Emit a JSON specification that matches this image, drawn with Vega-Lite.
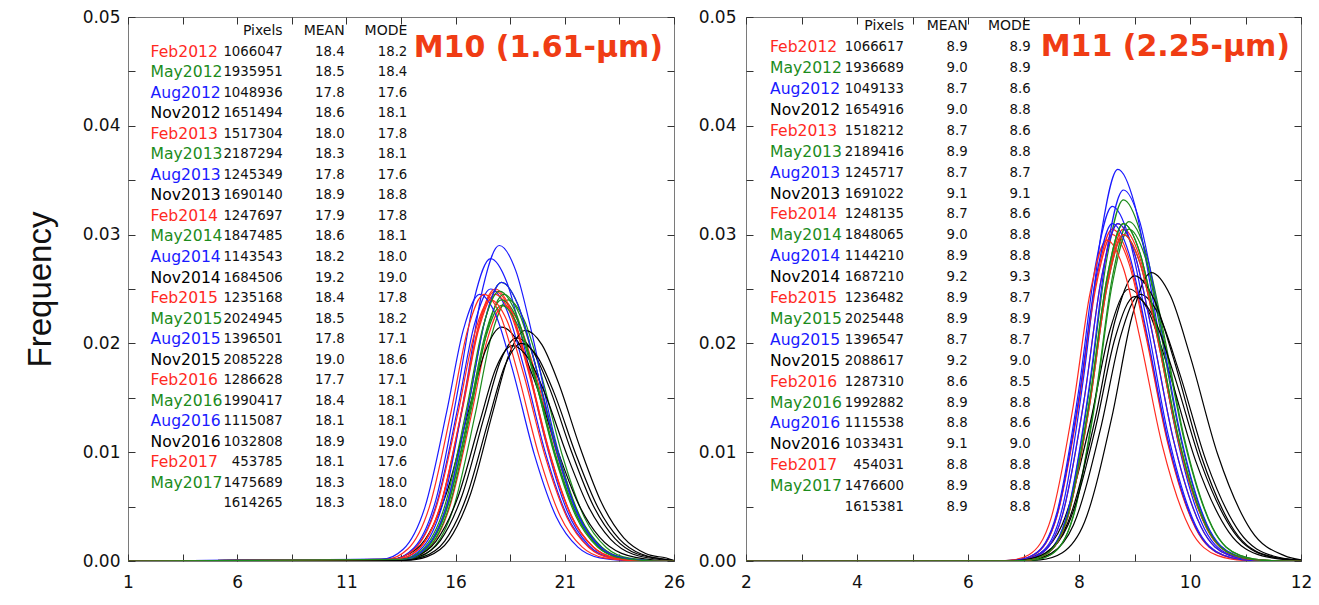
{
"$schema":"https://vega.github.io/schema/vega-lite/v6.json",
"background":"white",
"padding":{"left":23,"top":7,"right":0,"bottom":0},
"spacing":72,
"bounds":"flush",
"config":{
 "view":{"stroke":"#7a7a7a","strokeWidth":1},
 "axis":{"domain":false,"grid":false,"tickColor":"#333","tickWidth":1,"tickSize":-7,"labelFont":"DejaVu Sans","labelFontSize":17,"labelColor":"#111","labelOverlap":false,"labelFlush":false,"titleFont":"Liberation Sans","titleFontSize":33,"titleFontWeight":"normal","titleColor":"#111"}
},
"datasets":{
"titles":[{"p":"M10","t":"M10 (1.61-µm)"},{"p":"M11","t":"M11 (2.25-µm)"}],
"table":[
{"p":"M10","r":-1,"m":"","c":"","n":"Pixels","a":"MEAN","o":"MODE"},
{"p":"M10","r":0,"m":"Feb2012","c":"Feb","n":"1066047","a":"18.4","o":"18.2"},
{"p":"M10","r":1,"m":"May2012","c":"May","n":"1935951","a":"18.5","o":"18.4"},
{"p":"M10","r":2,"m":"Aug2012","c":"Aug","n":"1048936","a":"17.8","o":"17.6"},
{"p":"M10","r":3,"m":"Nov2012","c":"Nov","n":"1651494","a":"18.6","o":"18.1"},
{"p":"M10","r":4,"m":"Feb2013","c":"Feb","n":"1517304","a":"18.0","o":"17.8"},
{"p":"M10","r":5,"m":"May2013","c":"May","n":"2187294","a":"18.3","o":"18.1"},
{"p":"M10","r":6,"m":"Aug2013","c":"Aug","n":"1245349","a":"17.8","o":"17.6"},
{"p":"M10","r":7,"m":"Nov2013","c":"Nov","n":"1690140","a":"18.9","o":"18.8"},
{"p":"M10","r":8,"m":"Feb2014","c":"Feb","n":"1247697","a":"17.9","o":"17.8"},
{"p":"M10","r":9,"m":"May2014","c":"May","n":"1847485","a":"18.6","o":"18.1"},
{"p":"M10","r":10,"m":"Aug2014","c":"Aug","n":"1143543","a":"18.2","o":"18.0"},
{"p":"M10","r":11,"m":"Nov2014","c":"Nov","n":"1684506","a":"19.2","o":"19.0"},
{"p":"M10","r":12,"m":"Feb2015","c":"Feb","n":"1235168","a":"18.4","o":"17.8"},
{"p":"M10","r":13,"m":"May2015","c":"May","n":"2024945","a":"18.5","o":"18.2"},
{"p":"M10","r":14,"m":"Aug2015","c":"Aug","n":"1396501","a":"17.8","o":"17.1"},
{"p":"M10","r":15,"m":"Nov2015","c":"Nov","n":"2085228","a":"19.0","o":"18.6"},
{"p":"M10","r":16,"m":"Feb2016","c":"Feb","n":"1286628","a":"17.7","o":"17.1"},
{"p":"M10","r":17,"m":"May2016","c":"May","n":"1990417","a":"18.4","o":"18.1"},
{"p":"M10","r":18,"m":"Aug2016","c":"Aug","n":"1115087","a":"18.1","o":"18.1"},
{"p":"M10","r":19,"m":"Nov2016","c":"Nov","n":"1032808","a":"18.9","o":"19.0"},
{"p":"M10","r":20,"m":"Feb2017","c":"Feb","n":"453785","a":"18.1","o":"17.6"},
{"p":"M10","r":21,"m":"May2017","c":"May","n":"1475689","a":"18.3","o":"18.0"},
{"p":"M10","r":22,"m":"","c":"","n":"1614265","a":"18.3","o":"18.0"},
{"p":"M11","r":-1,"m":"","c":"","n":"Pixels","a":"MEAN","o":"MODE"},
{"p":"M11","r":0,"m":"Feb2012","c":"Feb","n":"1066617","a":"8.9","o":"8.9"},
{"p":"M11","r":1,"m":"May2012","c":"May","n":"1936689","a":"9.0","o":"8.9"},
{"p":"M11","r":2,"m":"Aug2012","c":"Aug","n":"1049133","a":"8.7","o":"8.6"},
{"p":"M11","r":3,"m":"Nov2012","c":"Nov","n":"1654916","a":"9.0","o":"8.8"},
{"p":"M11","r":4,"m":"Feb2013","c":"Feb","n":"1518212","a":"8.7","o":"8.6"},
{"p":"M11","r":5,"m":"May2013","c":"May","n":"2189416","a":"8.9","o":"8.8"},
{"p":"M11","r":6,"m":"Aug2013","c":"Aug","n":"1245717","a":"8.7","o":"8.7"},
{"p":"M11","r":7,"m":"Nov2013","c":"Nov","n":"1691022","a":"9.1","o":"9.1"},
{"p":"M11","r":8,"m":"Feb2014","c":"Feb","n":"1248135","a":"8.7","o":"8.6"},
{"p":"M11","r":9,"m":"May2014","c":"May","n":"1848065","a":"9.0","o":"8.8"},
{"p":"M11","r":10,"m":"Aug2014","c":"Aug","n":"1144210","a":"8.9","o":"8.8"},
{"p":"M11","r":11,"m":"Nov2014","c":"Nov","n":"1687210","a":"9.2","o":"9.3"},
{"p":"M11","r":12,"m":"Feb2015","c":"Feb","n":"1236482","a":"8.9","o":"8.7"},
{"p":"M11","r":13,"m":"May2015","c":"May","n":"2025448","a":"8.9","o":"8.9"},
{"p":"M11","r":14,"m":"Aug2015","c":"Aug","n":"1396547","a":"8.7","o":"8.7"},
{"p":"M11","r":15,"m":"Nov2015","c":"Nov","n":"2088617","a":"9.2","o":"9.0"},
{"p":"M11","r":16,"m":"Feb2016","c":"Feb","n":"1287310","a":"8.6","o":"8.5"},
{"p":"M11","r":17,"m":"May2016","c":"May","n":"1992882","a":"8.9","o":"8.8"},
{"p":"M11","r":18,"m":"Aug2016","c":"Aug","n":"1115538","a":"8.8","o":"8.6"},
{"p":"M11","r":19,"m":"Nov2016","c":"Nov","n":"1033431","a":"9.1","o":"9.0"},
{"p":"M11","r":20,"m":"Feb2017","c":"Feb","n":"454031","a":"8.8","o":"8.8"},
{"p":"M11","r":21,"m":"May2017","c":"May","n":"1476600","a":"8.9","o":"8.8"},
{"p":"M11","r":22,"m":"","c":"","n":"1615381","a":"8.9","o":"8.8"}
],
"curves":[
{"p":"M10","s":"Feb2012","c":"Feb","x":1,"y":0},{"p":"M10","s":"Feb2012","c":"Feb","x":13.7,"y":0.000134},{"p":"M10","s":"Feb2012","c":"Feb","x":14.7,"y":0.001032},{"p":"M10","s":"Feb2012","c":"Feb","x":15.7,"y":0.004771},{"p":"M10","s":"Feb2012","c":"Feb","x":16.7,"y":0.013231},{"p":"M10","s":"Feb2012","c":"Feb","x":17.45,"y":0.020351},{"p":"M10","s":"Feb2012","c":"Feb","x":18.2,"y":0.0235},{"p":"M10","s":"Feb2012","c":"Feb","x":18.95,"y":0.021644},{"p":"M10","s":"Feb2012","c":"Feb","x":19.7,"y":0.01692},{"p":"M10","s":"Feb2012","c":"Feb","x":20.7,"y":0.009424},{"p":"M10","s":"Feb2012","c":"Feb","x":21.7,"y":0.003925},{"p":"M10","s":"Feb2012","c":"Feb","x":22.7,"y":0.00122},{"p":"M10","s":"Feb2012","c":"Feb","x":23.7,"y":0.000282},{"p":"M10","s":"Feb2012","c":"Feb","x":25.2,"y":0.000019},{"p":"M10","s":"Feb2012","c":"Feb","x":26,"y":0},
{"p":"M10","s":"May2012","c":"May","x":1,"y":0},{"p":"M10","s":"May2012","c":"May","x":13.9,"y":0.000137},{"p":"M10","s":"May2012","c":"May","x":14.9,"y":0.001054},{"p":"M10","s":"May2012","c":"May","x":15.9,"y":0.004872},{"p":"M10","s":"May2012","c":"May","x":16.9,"y":0.013512},{"p":"M10","s":"May2012","c":"May","x":17.65,"y":0.020784},{"p":"M10","s":"May2012","c":"May","x":18.4,"y":0.024},{"p":"M10","s":"May2012","c":"May","x":19.15,"y":0.022104},{"p":"M10","s":"May2012","c":"May","x":19.9,"y":0.01728},{"p":"M10","s":"May2012","c":"May","x":20.9,"y":0.009624},{"p":"M10","s":"May2012","c":"May","x":21.9,"y":0.004008},{"p":"M10","s":"May2012","c":"May","x":22.9,"y":0.001246},{"p":"M10","s":"May2012","c":"May","x":23.9,"y":0.000288},{"p":"M10","s":"May2012","c":"May","x":25.4,"y":0.000019},{"p":"M10","s":"May2012","c":"May","x":26,"y":0},
{"p":"M10","s":"Aug2012","c":"Aug","x":1,"y":0},{"p":"M10","s":"Aug2012","c":"Aug","x":13.1,"y":0.000158},{"p":"M10","s":"Aug2012","c":"Aug","x":14.1,"y":0.00122},{"p":"M10","s":"Aug2012","c":"Aug","x":15.1,"y":0.005643},{"p":"M10","s":"Aug2012","c":"Aug","x":16.1,"y":0.015651},{"p":"M10","s":"Aug2012","c":"Aug","x":16.85,"y":0.024075},{"p":"M10","s":"Aug2012","c":"Aug","x":17.6,"y":0.0278},{"p":"M10","s":"Aug2012","c":"Aug","x":18.35,"y":0.025604},{"p":"M10","s":"Aug2012","c":"Aug","x":19.1,"y":0.020016},{"p":"M10","s":"Aug2012","c":"Aug","x":20.1,"y":0.011148},{"p":"M10","s":"Aug2012","c":"Aug","x":21.1,"y":0.004643},{"p":"M10","s":"Aug2012","c":"Aug","x":22.1,"y":0.001443},{"p":"M10","s":"Aug2012","c":"Aug","x":23.1,"y":0.000334},{"p":"M10","s":"Aug2012","c":"Aug","x":24.6,"y":0.000022},{"p":"M10","s":"Aug2012","c":"Aug","x":26,"y":0},
{"p":"M10","s":"Nov2012","c":"Nov","x":1,"y":0},{"p":"M10","s":"Nov2012","c":"Nov","x":12.6,"y":0.000058},{"p":"M10","s":"Nov2012","c":"Nov","x":13.6,"y":0.000413},{"p":"M10","s":"Nov2012","c":"Nov","x":14.6,"y":0.001965},{"p":"M10","s":"Nov2012","c":"Nov","x":15.6,"y":0.006343},{"p":"M10","s":"Nov2012","c":"Nov","x":16.6,"y":0.013846},{"p":"M10","s":"Nov2012","c":"Nov","x":17.35,"y":0.019264},{"p":"M10","s":"Nov2012","c":"Nov","x":18.1,"y":0.0215},{"p":"M10","s":"Nov2012","c":"Nov","x":18.85,"y":0.020167},{"p":"M10","s":"Nov2012","c":"Nov","x":19.6,"y":0.016663},{"p":"M10","s":"Nov2012","c":"Nov","x":20.6,"y":0.010578},{"p":"M10","s":"Nov2012","c":"Nov","x":21.6,"y":0.005354},{"p":"M10","s":"Nov2012","c":"Nov","x":22.6,"y":0.002165},{"p":"M10","s":"Nov2012","c":"Nov","x":23.6,"y":0.000697},{"p":"M10","s":"Nov2012","c":"Nov","x":25.1,"y":0.000083},{"p":"M10","s":"Nov2012","c":"Nov","x":26,"y":0},
{"p":"M10","s":"Feb2013","c":"Feb","x":1,"y":0},{"p":"M10","s":"Feb2013","c":"Feb","x":13.3,"y":0.000141},{"p":"M10","s":"Feb2013","c":"Feb","x":14.3,"y":0.001089},{"p":"M10","s":"Feb2013","c":"Feb","x":15.3,"y":0.005034},{"p":"M10","s":"Feb2013","c":"Feb","x":16.3,"y":0.013962},{"p":"M10","s":"Feb2013","c":"Feb","x":17.05,"y":0.021477},{"p":"M10","s":"Feb2013","c":"Feb","x":17.8,"y":0.0248},{"p":"M10","s":"Feb2013","c":"Feb","x":18.55,"y":0.022841},{"p":"M10","s":"Feb2013","c":"Feb","x":19.3,"y":0.017856},{"p":"M10","s":"Feb2013","c":"Feb","x":20.3,"y":0.009945},{"p":"M10","s":"Feb2013","c":"Feb","x":21.3,"y":0.004142},{"p":"M10","s":"Feb2013","c":"Feb","x":22.3,"y":0.001287},{"p":"M10","s":"Feb2013","c":"Feb","x":23.3,"y":0.000298},{"p":"M10","s":"Feb2013","c":"Feb","x":24.8,"y":0.00002},{"p":"M10","s":"Feb2013","c":"Feb","x":26,"y":0},
{"p":"M10","s":"May2013","c":"May","x":1,"y":0},{"p":"M10","s":"May2013","c":"May","x":13.6,"y":0.000146},{"p":"M10","s":"May2013","c":"May","x":14.6,"y":0.001124},{"p":"M10","s":"May2013","c":"May","x":15.6,"y":0.005197},{"p":"M10","s":"May2013","c":"May","x":16.6,"y":0.014413},{"p":"M10","s":"May2013","c":"May","x":17.35,"y":0.02217},{"p":"M10","s":"May2013","c":"May","x":18.1,"y":0.0256},{"p":"M10","s":"May2013","c":"May","x":18.85,"y":0.023578},{"p":"M10","s":"May2013","c":"May","x":19.6,"y":0.018432},{"p":"M10","s":"May2013","c":"May","x":20.6,"y":0.010266},{"p":"M10","s":"May2013","c":"May","x":21.6,"y":0.004275},{"p":"M10","s":"May2013","c":"May","x":22.6,"y":0.001329},{"p":"M10","s":"May2013","c":"May","x":23.6,"y":0.000307},{"p":"M10","s":"May2013","c":"May","x":25.1,"y":0.00002},{"p":"M10","s":"May2013","c":"May","x":26,"y":0},
{"p":"M10","s":"Aug2013","c":"Aug","x":1,"y":0},{"p":"M10","s":"Aug2013","c":"Aug","x":13.1,"y":0.000143},{"p":"M10","s":"Aug2013","c":"Aug","x":14.1,"y":0.001098},{"p":"M10","s":"Aug2013","c":"Aug","x":15.1,"y":0.005075},{"p":"M10","s":"Aug2013","c":"Aug","x":16.1,"y":0.014075},{"p":"M10","s":"Aug2013","c":"Aug","x":16.85,"y":0.02165},{"p":"M10","s":"Aug2013","c":"Aug","x":17.6,"y":0.025},{"p":"M10","s":"Aug2013","c":"Aug","x":18.35,"y":0.023025},{"p":"M10","s":"Aug2013","c":"Aug","x":19.1,"y":0.018},{"p":"M10","s":"Aug2013","c":"Aug","x":20.1,"y":0.010025},{"p":"M10","s":"Aug2013","c":"Aug","x":21.1,"y":0.004175},{"p":"M10","s":"Aug2013","c":"Aug","x":22.1,"y":0.001298},{"p":"M10","s":"Aug2013","c":"Aug","x":23.1,"y":0.0003},{"p":"M10","s":"Aug2013","c":"Aug","x":24.6,"y":0.00002},{"p":"M10","s":"Aug2013","c":"Aug","x":26,"y":0},
{"p":"M10","s":"Nov2013","c":"Nov","x":1,"y":0},{"p":"M10","s":"Nov2013","c":"Nov","x":13.3,"y":0.000055},{"p":"M10","s":"Nov2013","c":"Nov","x":14.3,"y":0.000394},{"p":"M10","s":"Nov2013","c":"Nov","x":15.3,"y":0.001874},{"p":"M10","s":"Nov2013","c":"Nov","x":16.3,"y":0.006048},{"p":"M10","s":"Nov2013","c":"Nov","x":17.3,"y":0.013202},{"p":"M10","s":"Nov2013","c":"Nov","x":18.05,"y":0.018368},{"p":"M10","s":"Nov2013","c":"Nov","x":18.8,"y":0.0205},{"p":"M10","s":"Nov2013","c":"Nov","x":19.55,"y":0.019229},{"p":"M10","s":"Nov2013","c":"Nov","x":20.3,"y":0.015888},{"p":"M10","s":"Nov2013","c":"Nov","x":21.3,"y":0.010086},{"p":"M10","s":"Nov2013","c":"Nov","x":22.3,"y":0.005105},{"p":"M10","s":"Nov2013","c":"Nov","x":23.3,"y":0.002064},{"p":"M10","s":"Nov2013","c":"Nov","x":24.3,"y":0.000664},{"p":"M10","s":"Nov2013","c":"Nov","x":25.8,"y":0.000079},{"p":"M10","s":"Nov2013","c":"Nov","x":26,"y":0},
{"p":"M10","s":"Feb2014","c":"Feb","x":1,"y":0},{"p":"M10","s":"Feb2014","c":"Feb","x":13.3,"y":0.00014},{"p":"M10","s":"Feb2014","c":"Feb","x":14.3,"y":0.001076},{"p":"M10","s":"Feb2014","c":"Feb","x":15.3,"y":0.004974},{"p":"M10","s":"Feb2014","c":"Feb","x":16.3,"y":0.013794},{"p":"M10","s":"Feb2014","c":"Feb","x":17.05,"y":0.021217},{"p":"M10","s":"Feb2014","c":"Feb","x":17.8,"y":0.0245},{"p":"M10","s":"Feb2014","c":"Feb","x":18.55,"y":0.022565},{"p":"M10","s":"Feb2014","c":"Feb","x":19.3,"y":0.01764},{"p":"M10","s":"Feb2014","c":"Feb","x":20.3,"y":0.009825},{"p":"M10","s":"Feb2014","c":"Feb","x":21.3,"y":0.004092},{"p":"M10","s":"Feb2014","c":"Feb","x":22.3,"y":0.001272},{"p":"M10","s":"Feb2014","c":"Feb","x":23.3,"y":0.000294},{"p":"M10","s":"Feb2014","c":"Feb","x":24.8,"y":0.00002},{"p":"M10","s":"Feb2014","c":"Feb","x":26,"y":0},
{"p":"M10","s":"May2014","c":"May","x":1,"y":0},{"p":"M10","s":"May2014","c":"May","x":13.6,"y":0.000137},{"p":"M10","s":"May2014","c":"May","x":14.6,"y":0.001054},{"p":"M10","s":"May2014","c":"May","x":15.6,"y":0.004872},{"p":"M10","s":"May2014","c":"May","x":16.6,"y":0.013512},{"p":"M10","s":"May2014","c":"May","x":17.35,"y":0.020784},{"p":"M10","s":"May2014","c":"May","x":18.1,"y":0.024},{"p":"M10","s":"May2014","c":"May","x":18.85,"y":0.022104},{"p":"M10","s":"May2014","c":"May","x":19.6,"y":0.01728},{"p":"M10","s":"May2014","c":"May","x":20.6,"y":0.009624},{"p":"M10","s":"May2014","c":"May","x":21.6,"y":0.004008},{"p":"M10","s":"May2014","c":"May","x":22.6,"y":0.001246},{"p":"M10","s":"May2014","c":"May","x":23.6,"y":0.000288},{"p":"M10","s":"May2014","c":"May","x":25.1,"y":0.000019},{"p":"M10","s":"May2014","c":"May","x":26,"y":0},
{"p":"M10","s":"Aug2014","c":"Aug","x":1,"y":0},{"p":"M10","s":"Aug2014","c":"Aug","x":13.5,"y":0.000165},{"p":"M10","s":"Aug2014","c":"Aug","x":14.5,"y":0.001273},{"p":"M10","s":"Aug2014","c":"Aug","x":15.5,"y":0.005887},{"p":"M10","s":"Aug2014","c":"Aug","x":16.5,"y":0.016327},{"p":"M10","s":"Aug2014","c":"Aug","x":17.25,"y":0.025114},{"p":"M10","s":"Aug2014","c":"Aug","x":18,"y":0.029},{"p":"M10","s":"Aug2014","c":"Aug","x":18.75,"y":0.026709},{"p":"M10","s":"Aug2014","c":"Aug","x":19.5,"y":0.02088},{"p":"M10","s":"Aug2014","c":"Aug","x":20.5,"y":0.011629},{"p":"M10","s":"Aug2014","c":"Aug","x":21.5,"y":0.004843},{"p":"M10","s":"Aug2014","c":"Aug","x":22.5,"y":0.001505},{"p":"M10","s":"Aug2014","c":"Aug","x":23.5,"y":0.000348},{"p":"M10","s":"Aug2014","c":"Aug","x":25,"y":0.000023},{"p":"M10","s":"Aug2014","c":"Aug","x":26,"y":0},
{"p":"M10","s":"Nov2014","c":"Nov","x":1,"y":0},{"p":"M10","s":"Nov2014","c":"Nov","x":13.7,"y":0.000057},{"p":"M10","s":"Nov2014","c":"Nov","x":14.7,"y":0.000407},{"p":"M10","s":"Nov2014","c":"Nov","x":15.7,"y":0.001938},{"p":"M10","s":"Nov2014","c":"Nov","x":16.7,"y":0.006254},{"p":"M10","s":"Nov2014","c":"Nov","x":17.7,"y":0.013653},{"p":"M10","s":"Nov2014","c":"Nov","x":18.45,"y":0.018995},{"p":"M10","s":"Nov2014","c":"Nov","x":19.2,"y":0.0212},{"p":"M10","s":"Nov2014","c":"Nov","x":19.95,"y":0.019886},{"p":"M10","s":"Nov2014","c":"Nov","x":20.7,"y":0.01643},{"p":"M10","s":"Nov2014","c":"Nov","x":21.7,"y":0.01043},{"p":"M10","s":"Nov2014","c":"Nov","x":22.7,"y":0.005279},{"p":"M10","s":"Nov2014","c":"Nov","x":23.7,"y":0.002135},{"p":"M10","s":"Nov2014","c":"Nov","x":24.7,"y":0.000687},{"p":"M10","s":"Nov2014","c":"Nov","x":25.9,"y":0.0001},{"p":"M10","s":"Nov2014","c":"Nov","x":26,"y":0},
{"p":"M10","s":"Feb2015","c":"Feb","x":1,"y":0},{"p":"M10","s":"Feb2015","c":"Feb","x":13.3,"y":0.000143},{"p":"M10","s":"Feb2015","c":"Feb","x":14.3,"y":0.001098},{"p":"M10","s":"Feb2015","c":"Feb","x":15.3,"y":0.005075},{"p":"M10","s":"Feb2015","c":"Feb","x":16.3,"y":0.014075},{"p":"M10","s":"Feb2015","c":"Feb","x":17.05,"y":0.02165},{"p":"M10","s":"Feb2015","c":"Feb","x":17.8,"y":0.025},{"p":"M10","s":"Feb2015","c":"Feb","x":18.55,"y":0.023025},{"p":"M10","s":"Feb2015","c":"Feb","x":19.3,"y":0.018},{"p":"M10","s":"Feb2015","c":"Feb","x":20.3,"y":0.010025},{"p":"M10","s":"Feb2015","c":"Feb","x":21.3,"y":0.004175},{"p":"M10","s":"Feb2015","c":"Feb","x":22.3,"y":0.001298},{"p":"M10","s":"Feb2015","c":"Feb","x":23.3,"y":0.0003},{"p":"M10","s":"Feb2015","c":"Feb","x":24.8,"y":0.00002},{"p":"M10","s":"Feb2015","c":"Feb","x":26,"y":0},
{"p":"M10","s":"May2015","c":"May","x":1,"y":0},{"p":"M10","s":"May2015","c":"May","x":13.7,"y":0.00014},{"p":"M10","s":"May2015","c":"May","x":14.7,"y":0.001076},{"p":"M10","s":"May2015","c":"May","x":15.7,"y":0.004974},{"p":"M10","s":"May2015","c":"May","x":16.7,"y":0.013794},{"p":"M10","s":"May2015","c":"May","x":17.45,"y":0.021217},{"p":"M10","s":"May2015","c":"May","x":18.2,"y":0.0245},{"p":"M10","s":"May2015","c":"May","x":18.95,"y":0.022565},{"p":"M10","s":"May2015","c":"May","x":19.7,"y":0.01764},{"p":"M10","s":"May2015","c":"May","x":20.7,"y":0.009825},{"p":"M10","s":"May2015","c":"May","x":21.7,"y":0.004092},{"p":"M10","s":"May2015","c":"May","x":22.7,"y":0.001272},{"p":"M10","s":"May2015","c":"May","x":23.7,"y":0.000294},{"p":"M10","s":"May2015","c":"May","x":25.2,"y":0.00002},{"p":"M10","s":"May2015","c":"May","x":26,"y":0},
{"p":"M10","s":"Aug2015","c":"Aug","x":1,"y":0},{"p":"M10","s":"Aug2015","c":"Aug","x":12.6,"y":0.00014},{"p":"M10","s":"Aug2015","c":"Aug","x":13.6,"y":0.001076},{"p":"M10","s":"Aug2015","c":"Aug","x":14.6,"y":0.004974},{"p":"M10","s":"Aug2015","c":"Aug","x":15.6,"y":0.013794},{"p":"M10","s":"Aug2015","c":"Aug","x":16.35,"y":0.021217},{"p":"M10","s":"Aug2015","c":"Aug","x":17.1,"y":0.0245},{"p":"M10","s":"Aug2015","c":"Aug","x":17.85,"y":0.022565},{"p":"M10","s":"Aug2015","c":"Aug","x":18.6,"y":0.01764},{"p":"M10","s":"Aug2015","c":"Aug","x":19.6,"y":0.009825},{"p":"M10","s":"Aug2015","c":"Aug","x":20.6,"y":0.004092},{"p":"M10","s":"Aug2015","c":"Aug","x":21.6,"y":0.001272},{"p":"M10","s":"Aug2015","c":"Aug","x":22.6,"y":0.000294},{"p":"M10","s":"Aug2015","c":"Aug","x":24.1,"y":0.00002},{"p":"M10","s":"Aug2015","c":"Aug","x":26,"y":0},
{"p":"M10","s":"Nov2015","c":"Nov","x":1,"y":0},{"p":"M10","s":"Nov2015","c":"Nov","x":13.1,"y":0.000053},{"p":"M10","s":"Nov2015","c":"Nov","x":14.1,"y":0.00038},{"p":"M10","s":"Nov2015","c":"Nov","x":15.1,"y":0.00181},{"p":"M10","s":"Nov2015","c":"Nov","x":16.1,"y":0.005841},{"p":"M10","s":"Nov2015","c":"Nov","x":17.1,"y":0.012751},{"p":"M10","s":"Nov2015","c":"Nov","x":17.85,"y":0.017741},{"p":"M10","s":"Nov2015","c":"Nov","x":18.6,"y":0.0198},{"p":"M10","s":"Nov2015","c":"Nov","x":19.35,"y":0.018572},{"p":"M10","s":"Nov2015","c":"Nov","x":20.1,"y":0.015345},{"p":"M10","s":"Nov2015","c":"Nov","x":21.1,"y":0.009742},{"p":"M10","s":"Nov2015","c":"Nov","x":22.1,"y":0.00493},{"p":"M10","s":"Nov2015","c":"Nov","x":23.1,"y":0.001994},{"p":"M10","s":"Nov2015","c":"Nov","x":24.1,"y":0.000642},{"p":"M10","s":"Nov2015","c":"Nov","x":25.6,"y":0.000076},{"p":"M10","s":"Nov2015","c":"Nov","x":26,"y":0},
{"p":"M10","s":"Feb2016","c":"Feb","x":1,"y":0},{"p":"M10","s":"Feb2016","c":"Feb","x":12.8,"y":0.00014},{"p":"M10","s":"Feb2016","c":"Feb","x":13.8,"y":0.001076},{"p":"M10","s":"Feb2016","c":"Feb","x":14.8,"y":0.004974},{"p":"M10","s":"Feb2016","c":"Feb","x":15.8,"y":0.013794},{"p":"M10","s":"Feb2016","c":"Feb","x":16.55,"y":0.021217},{"p":"M10","s":"Feb2016","c":"Feb","x":17.3,"y":0.0245},{"p":"M10","s":"Feb2016","c":"Feb","x":18.05,"y":0.022565},{"p":"M10","s":"Feb2016","c":"Feb","x":18.8,"y":0.01764},{"p":"M10","s":"Feb2016","c":"Feb","x":19.8,"y":0.009825},{"p":"M10","s":"Feb2016","c":"Feb","x":20.8,"y":0.004092},{"p":"M10","s":"Feb2016","c":"Feb","x":21.8,"y":0.001272},{"p":"M10","s":"Feb2016","c":"Feb","x":22.8,"y":0.000294},{"p":"M10","s":"Feb2016","c":"Feb","x":24.3,"y":0.00002},{"p":"M10","s":"Feb2016","c":"Feb","x":26,"y":0},
{"p":"M10","s":"May2016","c":"May","x":1,"y":0},{"p":"M10","s":"May2016","c":"May","x":13.6,"y":0.000134},{"p":"M10","s":"May2016","c":"May","x":14.6,"y":0.001032},{"p":"M10","s":"May2016","c":"May","x":15.6,"y":0.004771},{"p":"M10","s":"May2016","c":"May","x":16.6,"y":0.013231},{"p":"M10","s":"May2016","c":"May","x":17.35,"y":0.020351},{"p":"M10","s":"May2016","c":"May","x":18.1,"y":0.0235},{"p":"M10","s":"May2016","c":"May","x":18.85,"y":0.021644},{"p":"M10","s":"May2016","c":"May","x":19.6,"y":0.01692},{"p":"M10","s":"May2016","c":"May","x":20.6,"y":0.009424},{"p":"M10","s":"May2016","c":"May","x":21.6,"y":0.003925},{"p":"M10","s":"May2016","c":"May","x":22.6,"y":0.00122},{"p":"M10","s":"May2016","c":"May","x":23.6,"y":0.000282},{"p":"M10","s":"May2016","c":"May","x":25.1,"y":0.000019},{"p":"M10","s":"May2016","c":"May","x":26,"y":0},
{"p":"M10","s":"Aug2016","c":"Aug","x":1,"y":0},{"p":"M10","s":"Aug2016","c":"Aug","x":13.6,"y":0.000146},{"p":"M10","s":"Aug2016","c":"Aug","x":14.6,"y":0.001124},{"p":"M10","s":"Aug2016","c":"Aug","x":15.6,"y":0.005197},{"p":"M10","s":"Aug2016","c":"Aug","x":16.6,"y":0.014413},{"p":"M10","s":"Aug2016","c":"Aug","x":17.35,"y":0.02217},{"p":"M10","s":"Aug2016","c":"Aug","x":18.1,"y":0.0256},{"p":"M10","s":"Aug2016","c":"Aug","x":18.85,"y":0.023578},{"p":"M10","s":"Aug2016","c":"Aug","x":19.6,"y":0.018432},{"p":"M10","s":"Aug2016","c":"Aug","x":20.6,"y":0.010266},{"p":"M10","s":"Aug2016","c":"Aug","x":21.6,"y":0.004275},{"p":"M10","s":"Aug2016","c":"Aug","x":22.6,"y":0.001329},{"p":"M10","s":"Aug2016","c":"Aug","x":23.6,"y":0.000307},{"p":"M10","s":"Aug2016","c":"Aug","x":25.1,"y":0.00002},{"p":"M10","s":"Aug2016","c":"Aug","x":26,"y":0},
{"p":"M10","s":"Nov2016","c":"Nov","x":1,"y":0},{"p":"M10","s":"Nov2016","c":"Nov","x":13.5,"y":0.000054},{"p":"M10","s":"Nov2016","c":"Nov","x":14.5,"y":0.000384},{"p":"M10","s":"Nov2016","c":"Nov","x":15.5,"y":0.001828},{"p":"M10","s":"Nov2016","c":"Nov","x":16.5,"y":0.0059},{"p":"M10","s":"Nov2016","c":"Nov","x":17.5,"y":0.01288},{"p":"M10","s":"Nov2016","c":"Nov","x":18.25,"y":0.01792},{"p":"M10","s":"Nov2016","c":"Nov","x":19,"y":0.02},{"p":"M10","s":"Nov2016","c":"Nov","x":19.75,"y":0.01876},{"p":"M10","s":"Nov2016","c":"Nov","x":20.5,"y":0.0155},{"p":"M10","s":"Nov2016","c":"Nov","x":21.5,"y":0.00984},{"p":"M10","s":"Nov2016","c":"Nov","x":22.5,"y":0.00498},{"p":"M10","s":"Nov2016","c":"Nov","x":23.5,"y":0.002014},{"p":"M10","s":"Nov2016","c":"Nov","x":24.5,"y":0.000648},{"p":"M10","s":"Nov2016","c":"Nov","x":26,"y":0.00005},
{"p":"M10","s":"Feb2017","c":"Feb","x":1,"y":0},{"p":"M10","s":"Feb2017","c":"Feb","x":13.1,"y":0.000137},{"p":"M10","s":"Feb2017","c":"Feb","x":14.1,"y":0.001054},{"p":"M10","s":"Feb2017","c":"Feb","x":15.1,"y":0.004872},{"p":"M10","s":"Feb2017","c":"Feb","x":16.1,"y":0.013512},{"p":"M10","s":"Feb2017","c":"Feb","x":16.85,"y":0.020784},{"p":"M10","s":"Feb2017","c":"Feb","x":17.6,"y":0.024},{"p":"M10","s":"Feb2017","c":"Feb","x":18.35,"y":0.022104},{"p":"M10","s":"Feb2017","c":"Feb","x":19.1,"y":0.01728},{"p":"M10","s":"Feb2017","c":"Feb","x":20.1,"y":0.009624},{"p":"M10","s":"Feb2017","c":"Feb","x":21.1,"y":0.004008},{"p":"M10","s":"Feb2017","c":"Feb","x":22.1,"y":0.001246},{"p":"M10","s":"Feb2017","c":"Feb","x":23.1,"y":0.000288},{"p":"M10","s":"Feb2017","c":"Feb","x":24.6,"y":0.000019},{"p":"M10","s":"Feb2017","c":"Feb","x":26,"y":0},
{"p":"M10","s":"May2017","c":"May","x":1,"y":0},{"p":"M10","s":"May2017","c":"May","x":13.5,"y":0.000141},{"p":"M10","s":"May2017","c":"May","x":14.5,"y":0.001089},{"p":"M10","s":"May2017","c":"May","x":15.5,"y":0.005034},{"p":"M10","s":"May2017","c":"May","x":16.5,"y":0.013962},{"p":"M10","s":"May2017","c":"May","x":17.25,"y":0.021477},{"p":"M10","s":"May2017","c":"May","x":18,"y":0.0248},{"p":"M10","s":"May2017","c":"May","x":18.75,"y":0.022841},{"p":"M10","s":"May2017","c":"May","x":19.5,"y":0.017856},{"p":"M10","s":"May2017","c":"May","x":20.5,"y":0.009945},{"p":"M10","s":"May2017","c":"May","x":21.5,"y":0.004142},{"p":"M10","s":"May2017","c":"May","x":22.5,"y":0.001287},{"p":"M10","s":"May2017","c":"May","x":23.5,"y":0.000298},{"p":"M10","s":"May2017","c":"May","x":25,"y":0.00002},{"p":"M10","s":"May2017","c":"May","x":26,"y":0},
{"p":"M11","s":"Feb2012","c":"Feb","x":2,"y":0},{"p":"M11","s":"Feb2012","c":"Feb","x":6.7,"y":0.000005},{"p":"M11","s":"Feb2012","c":"Feb","x":7.05,"y":0.000067},{"p":"M11","s":"Feb2012","c":"Feb","x":7.4,"y":0.000604},{"p":"M11","s":"Feb2012","c":"Feb","x":7.8,"y":0.004127},{"p":"M11","s":"Feb2012","c":"Feb","x":8.2,"y":0.014847},{"p":"M11","s":"Feb2012","c":"Feb","x":8.5,"y":0.025477},{"p":"M11","s":"Feb2012","c":"Feb","x":8.8,"y":0.0305},{"p":"M11","s":"Feb2012","c":"Feb","x":9.1,"y":0.027816},{"p":"M11","s":"Feb2012","c":"Feb","x":9.4,"y":0.021137},{"p":"M11","s":"Feb2012","c":"Feb","x":9.8,"y":0.010992},{"p":"M11","s":"Feb2012","c":"Feb","x":10.3,"y":0.003071},{"p":"M11","s":"Feb2012","c":"Feb","x":10.8,"y":0.000515},{"p":"M11","s":"Feb2012","c":"Feb","x":11.3,"y":0.000052},{"p":"M11","s":"Feb2012","c":"Feb","x":12,"y":0},
{"p":"M11","s":"May2012","c":"May","x":2,"y":0},{"p":"M11","s":"May2012","c":"May","x":6.8,"y":0.000005},{"p":"M11","s":"May2012","c":"May","x":7.15,"y":0.000069},{"p":"M11","s":"May2012","c":"May","x":7.5,"y":0.000618},{"p":"M11","s":"May2012","c":"May","x":7.9,"y":0.004221},{"p":"M11","s":"May2012","c":"May","x":8.3,"y":0.015188},{"p":"M11","s":"May2012","c":"May","x":8.6,"y":0.026061},{"p":"M11","s":"May2012","c":"May","x":8.9,"y":0.0312},{"p":"M11","s":"May2012","c":"May","x":9.2,"y":0.028454},{"p":"M11","s":"May2012","c":"May","x":9.5,"y":0.021622},{"p":"M11","s":"May2012","c":"May","x":9.9,"y":0.011244},{"p":"M11","s":"May2012","c":"May","x":10.4,"y":0.003142},{"p":"M11","s":"May2012","c":"May","x":10.9,"y":0.000526},{"p":"M11","s":"May2012","c":"May","x":11.4,"y":0.000053},{"p":"M11","s":"May2012","c":"May","x":12,"y":0},
{"p":"M11","s":"Aug2012","c":"Aug","x":2,"y":0},{"p":"M11","s":"Aug2012","c":"Aug","x":6.5,"y":0.000005},{"p":"M11","s":"Aug2012","c":"Aug","x":6.85,"y":0.000072},{"p":"M11","s":"Aug2012","c":"Aug","x":7.2,"y":0.000645},{"p":"M11","s":"Aug2012","c":"Aug","x":7.6,"y":0.004411},{"p":"M11","s":"Aug2012","c":"Aug","x":8,"y":0.01587},{"p":"M11","s":"Aug2012","c":"Aug","x":8.3,"y":0.027231},{"p":"M11","s":"Aug2012","c":"Aug","x":8.6,"y":0.0326},{"p":"M11","s":"Aug2012","c":"Aug","x":8.9,"y":0.029731},{"p":"M11","s":"Aug2012","c":"Aug","x":9.2,"y":0.022592},{"p":"M11","s":"Aug2012","c":"Aug","x":9.6,"y":0.011749},{"p":"M11","s":"Aug2012","c":"Aug","x":10.1,"y":0.003283},{"p":"M11","s":"Aug2012","c":"Aug","x":10.6,"y":0.00055},{"p":"M11","s":"Aug2012","c":"Aug","x":11.1,"y":0.000055},{"p":"M11","s":"Aug2012","c":"Aug","x":12,"y":0},
{"p":"M11","s":"Nov2012","c":"Nov","x":2,"y":0},{"p":"M11","s":"Nov2012","c":"Nov","x":6.5,"y":0.000009},{"p":"M11","s":"Nov2012","c":"Nov","x":6.9,"y":0.000097},{"p":"M11","s":"Nov2012","c":"Nov","x":7.3,"y":0.000715},{"p":"M11","s":"Nov2012","c":"Nov","x":7.7,"y":0.003383},{"p":"M11","s":"Nov2012","c":"Nov","x":8.2,"y":0.012658},{"p":"M11","s":"Nov2012","c":"Nov","x":8.55,"y":0.02109},{"p":"M11","s":"Nov2012","c":"Nov","x":8.9,"y":0.025},{"p":"M11","s":"Nov2012","c":"Nov","x":9.25,"y":0.022968},{"p":"M11","s":"Nov2012","c":"Nov","x":9.6,"y":0.01781},{"p":"M11","s":"Nov2012","c":"Nov","x":10.1,"y":0.00923},{"p":"M11","s":"Nov2012","c":"Nov","x":10.7,"y":0.002655},{"p":"M11","s":"Nov2012","c":"Nov","x":11.3,"y":0.000465},{"p":"M11","s":"Nov2012","c":"Nov","x":11.9,"y":0.000049},{"p":"M11","s":"Nov2012","c":"Nov","x":12,"y":0},
{"p":"M11","s":"Feb2013","c":"Feb","x":2,"y":0},{"p":"M11","s":"Feb2013","c":"Feb","x":6.5,"y":0.000005},{"p":"M11","s":"Feb2013","c":"Feb","x":6.85,"y":0.000066},{"p":"M11","s":"Feb2013","c":"Feb","x":7.2,"y":0.000594},{"p":"M11","s":"Feb2013","c":"Feb","x":7.6,"y":0.004059},{"p":"M11","s":"Feb2013","c":"Feb","x":8,"y":0.014604},{"p":"M11","s":"Feb2013","c":"Feb","x":8.3,"y":0.025059},{"p":"M11","s":"Feb2013","c":"Feb","x":8.6,"y":0.03},{"p":"M11","s":"Feb2013","c":"Feb","x":8.9,"y":0.02736},{"p":"M11","s":"Feb2013","c":"Feb","x":9.2,"y":0.02079},{"p":"M11","s":"Feb2013","c":"Feb","x":9.6,"y":0.010812},{"p":"M11","s":"Feb2013","c":"Feb","x":10.1,"y":0.003021},{"p":"M11","s":"Feb2013","c":"Feb","x":10.6,"y":0.000506},{"p":"M11","s":"Feb2013","c":"Feb","x":11.1,"y":0.000051},{"p":"M11","s":"Feb2013","c":"Feb","x":12,"y":0},
{"p":"M11","s":"May2013","c":"May","x":2,"y":0},{"p":"M11","s":"May2013","c":"May","x":6.7,"y":0.000005},{"p":"M11","s":"May2013","c":"May","x":7.05,"y":0.000073},{"p":"M11","s":"May2013","c":"May","x":7.4,"y":0.000657},{"p":"M11","s":"May2013","c":"May","x":7.8,"y":0.004492},{"p":"M11","s":"May2013","c":"May","x":8.2,"y":0.016162},{"p":"M11","s":"May2013","c":"May","x":8.5,"y":0.027732},{"p":"M11","s":"May2013","c":"May","x":8.8,"y":0.0332},{"p":"M11","s":"May2013","c":"May","x":9.1,"y":0.030278},{"p":"M11","s":"May2013","c":"May","x":9.4,"y":0.023008},{"p":"M11","s":"May2013","c":"May","x":9.8,"y":0.011965},{"p":"M11","s":"May2013","c":"May","x":10.3,"y":0.003343},{"p":"M11","s":"May2013","c":"May","x":10.8,"y":0.00056},{"p":"M11","s":"May2013","c":"May","x":11.3,"y":0.000056},{"p":"M11","s":"May2013","c":"May","x":12,"y":0},
{"p":"M11","s":"Aug2013","c":"Aug","x":2,"y":0},{"p":"M11","s":"Aug2013","c":"Aug","x":6.6,"y":0.000005},{"p":"M11","s":"Aug2013","c":"Aug","x":6.95,"y":0.000079},{"p":"M11","s":"Aug2013","c":"Aug","x":7.3,"y":0.000713},{"p":"M11","s":"Aug2013","c":"Aug","x":7.7,"y":0.004871},{"p":"M11","s":"Aug2013","c":"Aug","x":8.1,"y":0.017525},{"p":"M11","s":"Aug2013","c":"Aug","x":8.4,"y":0.030071},{"p":"M11","s":"Aug2013","c":"Aug","x":8.7,"y":0.036},{"p":"M11","s":"Aug2013","c":"Aug","x":9,"y":0.032832},{"p":"M11","s":"Aug2013","c":"Aug","x":9.3,"y":0.024948},{"p":"M11","s":"Aug2013","c":"Aug","x":9.7,"y":0.012974},{"p":"M11","s":"Aug2013","c":"Aug","x":10.2,"y":0.003625},{"p":"M11","s":"Aug2013","c":"Aug","x":10.7,"y":0.000607},{"p":"M11","s":"Aug2013","c":"Aug","x":11.2,"y":0.000061},{"p":"M11","s":"Aug2013","c":"Aug","x":12,"y":0},
{"p":"M11","s":"Nov2013","c":"Nov","x":2,"y":0},{"p":"M11","s":"Nov2013","c":"Nov","x":6.7,"y":0.000008},{"p":"M11","s":"Nov2013","c":"Nov","x":7.1,"y":0.000095},{"p":"M11","s":"Nov2013","c":"Nov","x":7.5,"y":0.000701},{"p":"M11","s":"Nov2013","c":"Nov","x":7.9,"y":0.003315},{"p":"M11","s":"Nov2013","c":"Nov","x":8.4,"y":0.012404},{"p":"M11","s":"Nov2013","c":"Nov","x":8.75,"y":0.020668},{"p":"M11","s":"Nov2013","c":"Nov","x":9.1,"y":0.0245},{"p":"M11","s":"Nov2013","c":"Nov","x":9.45,"y":0.022508},{"p":"M11","s":"Nov2013","c":"Nov","x":9.8,"y":0.017454},{"p":"M11","s":"Nov2013","c":"Nov","x":10.3,"y":0.009045},{"p":"M11","s":"Nov2013","c":"Nov","x":10.9,"y":0.002602},{"p":"M11","s":"Nov2013","c":"Nov","x":11.5,"y":0.000456},{"p":"M11","s":"Nov2013","c":"Nov","x":12,"y":0.00006},
{"p":"M11","s":"Feb2014","c":"Feb","x":2,"y":0},{"p":"M11","s":"Feb2014","c":"Feb","x":6.5,"y":0.000005},{"p":"M11","s":"Feb2014","c":"Feb","x":6.85,"y":0.000067},{"p":"M11","s":"Feb2014","c":"Feb","x":7.2,"y":0.000604},{"p":"M11","s":"Feb2014","c":"Feb","x":7.6,"y":0.004127},{"p":"M11","s":"Feb2014","c":"Feb","x":8,"y":0.014847},{"p":"M11","s":"Feb2014","c":"Feb","x":8.3,"y":0.025477},{"p":"M11","s":"Feb2014","c":"Feb","x":8.6,"y":0.0305},{"p":"M11","s":"Feb2014","c":"Feb","x":8.9,"y":0.027816},{"p":"M11","s":"Feb2014","c":"Feb","x":9.2,"y":0.021137},{"p":"M11","s":"Feb2014","c":"Feb","x":9.6,"y":0.010992},{"p":"M11","s":"Feb2014","c":"Feb","x":10.1,"y":0.003071},{"p":"M11","s":"Feb2014","c":"Feb","x":10.6,"y":0.000515},{"p":"M11","s":"Feb2014","c":"Feb","x":11.1,"y":0.000052},{"p":"M11","s":"Feb2014","c":"Feb","x":12,"y":0},
{"p":"M11","s":"May2014","c":"May","x":2,"y":0},{"p":"M11","s":"May2014","c":"May","x":6.7,"y":0.000005},{"p":"M11","s":"May2014","c":"May","x":7.05,"y":0.000068},{"p":"M11","s":"May2014","c":"May","x":7.4,"y":0.000614},{"p":"M11","s":"May2014","c":"May","x":7.8,"y":0.004194},{"p":"M11","s":"May2014","c":"May","x":8.2,"y":0.015091},{"p":"M11","s":"May2014","c":"May","x":8.5,"y":0.025894},{"p":"M11","s":"May2014","c":"May","x":8.8,"y":0.031},{"p":"M11","s":"May2014","c":"May","x":9.1,"y":0.028272},{"p":"M11","s":"May2014","c":"May","x":9.4,"y":0.021483},{"p":"M11","s":"May2014","c":"May","x":9.8,"y":0.011172},{"p":"M11","s":"May2014","c":"May","x":10.3,"y":0.003122},{"p":"M11","s":"May2014","c":"May","x":10.8,"y":0.000523},{"p":"M11","s":"May2014","c":"May","x":11.3,"y":0.000053},{"p":"M11","s":"May2014","c":"May","x":12,"y":0},
{"p":"M11","s":"Aug2014","c":"Aug","x":2,"y":0},{"p":"M11","s":"Aug2014","c":"Aug","x":6.7,"y":0.000005},{"p":"M11","s":"Aug2014","c":"Aug","x":7.05,"y":0.000075},{"p":"M11","s":"Aug2014","c":"Aug","x":7.4,"y":0.000675},{"p":"M11","s":"Aug2014","c":"Aug","x":7.8,"y":0.004614},{"p":"M11","s":"Aug2014","c":"Aug","x":8.2,"y":0.0166},{"p":"M11","s":"Aug2014","c":"Aug","x":8.5,"y":0.028484},{"p":"M11","s":"Aug2014","c":"Aug","x":8.8,"y":0.0341},{"p":"M11","s":"Aug2014","c":"Aug","x":9.1,"y":0.031099},{"p":"M11","s":"Aug2014","c":"Aug","x":9.4,"y":0.023631},{"p":"M11","s":"Aug2014","c":"Aug","x":9.8,"y":0.01229},{"p":"M11","s":"Aug2014","c":"Aug","x":10.3,"y":0.003434},{"p":"M11","s":"Aug2014","c":"Aug","x":10.8,"y":0.000575},{"p":"M11","s":"Aug2014","c":"Aug","x":11.3,"y":0.000058},{"p":"M11","s":"Aug2014","c":"Aug","x":12,"y":0},
{"p":"M11","s":"Nov2014","c":"Nov","x":2,"y":0},{"p":"M11","s":"Nov2014","c":"Nov","x":6.9,"y":0.000009},{"p":"M11","s":"Nov2014","c":"Nov","x":7.3,"y":0.000102},{"p":"M11","s":"Nov2014","c":"Nov","x":7.7,"y":0.000758},{"p":"M11","s":"Nov2014","c":"Nov","x":8.1,"y":0.003585},{"p":"M11","s":"Nov2014","c":"Nov","x":8.6,"y":0.013417},{"p":"M11","s":"Nov2014","c":"Nov","x":8.95,"y":0.022355},{"p":"M11","s":"Nov2014","c":"Nov","x":9.3,"y":0.0265},{"p":"M11","s":"Nov2014","c":"Nov","x":9.65,"y":0.024346},{"p":"M11","s":"Nov2014","c":"Nov","x":10,"y":0.018879},{"p":"M11","s":"Nov2014","c":"Nov","x":10.5,"y":0.009784},{"p":"M11","s":"Nov2014","c":"Nov","x":11.1,"y":0.002814},{"p":"M11","s":"Nov2014","c":"Nov","x":11.7,"y":0.000493},{"p":"M11","s":"Nov2014","c":"Nov","x":12,"y":0.0001},
{"p":"M11","s":"Feb2015","c":"Feb","x":2,"y":0},{"p":"M11","s":"Feb2015","c":"Feb","x":6.6,"y":0.000005},{"p":"M11","s":"Feb2015","c":"Feb","x":6.95,"y":0.000068},{"p":"M11","s":"Feb2015","c":"Feb","x":7.3,"y":0.000614},{"p":"M11","s":"Feb2015","c":"Feb","x":7.7,"y":0.004194},{"p":"M11","s":"Feb2015","c":"Feb","x":8.1,"y":0.015091},{"p":"M11","s":"Feb2015","c":"Feb","x":8.4,"y":0.025894},{"p":"M11","s":"Feb2015","c":"Feb","x":8.7,"y":0.031},{"p":"M11","s":"Feb2015","c":"Feb","x":9,"y":0.028272},{"p":"M11","s":"Feb2015","c":"Feb","x":9.3,"y":0.021483},{"p":"M11","s":"Feb2015","c":"Feb","x":9.7,"y":0.011172},{"p":"M11","s":"Feb2015","c":"Feb","x":10.2,"y":0.003122},{"p":"M11","s":"Feb2015","c":"Feb","x":10.7,"y":0.000523},{"p":"M11","s":"Feb2015","c":"Feb","x":11.2,"y":0.000053},{"p":"M11","s":"Feb2015","c":"Feb","x":12,"y":0},
{"p":"M11","s":"May2015","c":"May","x":2,"y":0},{"p":"M11","s":"May2015","c":"May","x":6.8,"y":0.000005},{"p":"M11","s":"May2015","c":"May","x":7.15,"y":0.000067},{"p":"M11","s":"May2015","c":"May","x":7.5,"y":0.000604},{"p":"M11","s":"May2015","c":"May","x":7.9,"y":0.004127},{"p":"M11","s":"May2015","c":"May","x":8.3,"y":0.014847},{"p":"M11","s":"May2015","c":"May","x":8.6,"y":0.025477},{"p":"M11","s":"May2015","c":"May","x":8.9,"y":0.0305},{"p":"M11","s":"May2015","c":"May","x":9.2,"y":0.027816},{"p":"M11","s":"May2015","c":"May","x":9.5,"y":0.021137},{"p":"M11","s":"May2015","c":"May","x":9.9,"y":0.010992},{"p":"M11","s":"May2015","c":"May","x":10.4,"y":0.003071},{"p":"M11","s":"May2015","c":"May","x":10.9,"y":0.000515},{"p":"M11","s":"May2015","c":"May","x":11.4,"y":0.000052},{"p":"M11","s":"May2015","c":"May","x":12,"y":0},
{"p":"M11","s":"Aug2015","c":"Aug","x":2,"y":0},{"p":"M11","s":"Aug2015","c":"Aug","x":6.6,"y":0.000005},{"p":"M11","s":"Aug2015","c":"Aug","x":6.95,"y":0.000068},{"p":"M11","s":"Aug2015","c":"Aug","x":7.3,"y":0.000614},{"p":"M11","s":"Aug2015","c":"Aug","x":7.7,"y":0.004194},{"p":"M11","s":"Aug2015","c":"Aug","x":8.1,"y":0.015091},{"p":"M11","s":"Aug2015","c":"Aug","x":8.4,"y":0.025894},{"p":"M11","s":"Aug2015","c":"Aug","x":8.7,"y":0.031},{"p":"M11","s":"Aug2015","c":"Aug","x":9,"y":0.028272},{"p":"M11","s":"Aug2015","c":"Aug","x":9.3,"y":0.021483},{"p":"M11","s":"Aug2015","c":"Aug","x":9.7,"y":0.011172},{"p":"M11","s":"Aug2015","c":"Aug","x":10.2,"y":0.003122},{"p":"M11","s":"Aug2015","c":"Aug","x":10.7,"y":0.000523},{"p":"M11","s":"Aug2015","c":"Aug","x":11.2,"y":0.000053},{"p":"M11","s":"Aug2015","c":"Aug","x":12,"y":0},
{"p":"M11","s":"Nov2015","c":"Nov","x":2,"y":0},{"p":"M11","s":"Nov2015","c":"Nov","x":6.6,"y":0.000009},{"p":"M11","s":"Nov2015","c":"Nov","x":7,"y":0.000101},{"p":"M11","s":"Nov2015","c":"Nov","x":7.4,"y":0.000749},{"p":"M11","s":"Nov2015","c":"Nov","x":7.8,"y":0.003545},{"p":"M11","s":"Nov2015","c":"Nov","x":8.3,"y":0.013265},{"p":"M11","s":"Nov2015","c":"Nov","x":8.65,"y":0.022102},{"p":"M11","s":"Nov2015","c":"Nov","x":9,"y":0.0262},{"p":"M11","s":"Nov2015","c":"Nov","x":9.35,"y":0.02407},{"p":"M11","s":"Nov2015","c":"Nov","x":9.7,"y":0.018665},{"p":"M11","s":"Nov2015","c":"Nov","x":10.2,"y":0.009673},{"p":"M11","s":"Nov2015","c":"Nov","x":10.8,"y":0.002782},{"p":"M11","s":"Nov2015","c":"Nov","x":11.4,"y":0.000487},{"p":"M11","s":"Nov2015","c":"Nov","x":12,"y":0.000052},
{"p":"M11","s":"Feb2016","c":"Feb","x":2,"y":0},{"p":"M11","s":"Feb2016","c":"Feb","x":6.4,"y":0.000004},{"p":"M11","s":"Feb2016","c":"Feb","x":6.75,"y":0.000065},{"p":"M11","s":"Feb2016","c":"Feb","x":7.1,"y":0.000584},{"p":"M11","s":"Feb2016","c":"Feb","x":7.5,"y":0.003991},{"p":"M11","s":"Feb2016","c":"Feb","x":7.9,"y":0.014361},{"p":"M11","s":"Feb2016","c":"Feb","x":8.2,"y":0.024641},{"p":"M11","s":"Feb2016","c":"Feb","x":8.5,"y":0.0295},{"p":"M11","s":"Feb2016","c":"Feb","x":8.8,"y":0.026904},{"p":"M11","s":"Feb2016","c":"Feb","x":9.1,"y":0.020444},{"p":"M11","s":"Feb2016","c":"Feb","x":9.5,"y":0.010632},{"p":"M11","s":"Feb2016","c":"Feb","x":10,"y":0.002971},{"p":"M11","s":"Feb2016","c":"Feb","x":10.5,"y":0.000498},{"p":"M11","s":"Feb2016","c":"Feb","x":11,"y":0.00005},{"p":"M11","s":"Feb2016","c":"Feb","x":12,"y":0},
{"p":"M11","s":"May2016","c":"May","x":2,"y":0},{"p":"M11","s":"May2016","c":"May","x":6.7,"y":0.000005},{"p":"M11","s":"May2016","c":"May","x":7.05,"y":0.000066},{"p":"M11","s":"May2016","c":"May","x":7.4,"y":0.000594},{"p":"M11","s":"May2016","c":"May","x":7.8,"y":0.004059},{"p":"M11","s":"May2016","c":"May","x":8.2,"y":0.014604},{"p":"M11","s":"May2016","c":"May","x":8.5,"y":0.025059},{"p":"M11","s":"May2016","c":"May","x":8.8,"y":0.03},{"p":"M11","s":"May2016","c":"May","x":9.1,"y":0.02736},{"p":"M11","s":"May2016","c":"May","x":9.4,"y":0.02079},{"p":"M11","s":"May2016","c":"May","x":9.8,"y":0.010812},{"p":"M11","s":"May2016","c":"May","x":10.3,"y":0.003021},{"p":"M11","s":"May2016","c":"May","x":10.8,"y":0.000506},{"p":"M11","s":"May2016","c":"May","x":11.3,"y":0.000051},{"p":"M11","s":"May2016","c":"May","x":12,"y":0},
{"p":"M11","s":"Aug2016","c":"Aug","x":2,"y":0},{"p":"M11","s":"Aug2016","c":"Aug","x":6.5,"y":0.000005},{"p":"M11","s":"Aug2016","c":"Aug","x":6.85,"y":0.000068},{"p":"M11","s":"Aug2016","c":"Aug","x":7.2,"y":0.000614},{"p":"M11","s":"Aug2016","c":"Aug","x":7.6,"y":0.004194},{"p":"M11","s":"Aug2016","c":"Aug","x":8,"y":0.015091},{"p":"M11","s":"Aug2016","c":"Aug","x":8.3,"y":0.025894},{"p":"M11","s":"Aug2016","c":"Aug","x":8.6,"y":0.031},{"p":"M11","s":"Aug2016","c":"Aug","x":8.9,"y":0.028272},{"p":"M11","s":"Aug2016","c":"Aug","x":9.2,"y":0.021483},{"p":"M11","s":"Aug2016","c":"Aug","x":9.6,"y":0.011172},{"p":"M11","s":"Aug2016","c":"Aug","x":10.1,"y":0.003122},{"p":"M11","s":"Aug2016","c":"Aug","x":10.6,"y":0.000523},{"p":"M11","s":"Aug2016","c":"Aug","x":11.1,"y":0.000053},{"p":"M11","s":"Aug2016","c":"Aug","x":12,"y":0},
{"p":"M11","s":"Nov2016","c":"Nov","x":2,"y":0},{"p":"M11","s":"Nov2016","c":"Nov","x":6.6,"y":0.000008},{"p":"M11","s":"Nov2016","c":"Nov","x":7,"y":0.000094},{"p":"M11","s":"Nov2016","c":"Nov","x":7.4,"y":0.000695},{"p":"M11","s":"Nov2016","c":"Nov","x":7.8,"y":0.003288},{"p":"M11","s":"Nov2016","c":"Nov","x":8.3,"y":0.012303},{"p":"M11","s":"Nov2016","c":"Nov","x":8.65,"y":0.0205},{"p":"M11","s":"Nov2016","c":"Nov","x":9,"y":0.0243},{"p":"M11","s":"Nov2016","c":"Nov","x":9.35,"y":0.022324},{"p":"M11","s":"Nov2016","c":"Nov","x":9.7,"y":0.017311},{"p":"M11","s":"Nov2016","c":"Nov","x":10.2,"y":0.008972},{"p":"M11","s":"Nov2016","c":"Nov","x":10.8,"y":0.002581},{"p":"M11","s":"Nov2016","c":"Nov","x":11.4,"y":0.000452},{"p":"M11","s":"Nov2016","c":"Nov","x":12,"y":0.000048},
{"p":"M11","s":"Feb2017","c":"Feb","x":2,"y":0},{"p":"M11","s":"Feb2017","c":"Feb","x":6.7,"y":0.000005},{"p":"M11","s":"Feb2017","c":"Feb","x":7.05,"y":0.000066},{"p":"M11","s":"Feb2017","c":"Feb","x":7.4,"y":0.000594},{"p":"M11","s":"Feb2017","c":"Feb","x":7.8,"y":0.004059},{"p":"M11","s":"Feb2017","c":"Feb","x":8.2,"y":0.014604},{"p":"M11","s":"Feb2017","c":"Feb","x":8.5,"y":0.025059},{"p":"M11","s":"Feb2017","c":"Feb","x":8.8,"y":0.03},{"p":"M11","s":"Feb2017","c":"Feb","x":9.1,"y":0.02736},{"p":"M11","s":"Feb2017","c":"Feb","x":9.4,"y":0.02079},{"p":"M11","s":"Feb2017","c":"Feb","x":9.8,"y":0.010812},{"p":"M11","s":"Feb2017","c":"Feb","x":10.3,"y":0.003021},{"p":"M11","s":"Feb2017","c":"Feb","x":10.8,"y":0.000506},{"p":"M11","s":"Feb2017","c":"Feb","x":11.3,"y":0.000051},{"p":"M11","s":"Feb2017","c":"Feb","x":12,"y":0},
{"p":"M11","s":"May2017","c":"May","x":2,"y":0},{"p":"M11","s":"May2017","c":"May","x":6.7,"y":0.000005},{"p":"M11","s":"May2017","c":"May","x":7.05,"y":0.000068},{"p":"M11","s":"May2017","c":"May","x":7.4,"y":0.000614},{"p":"M11","s":"May2017","c":"May","x":7.8,"y":0.004194},{"p":"M11","s":"May2017","c":"May","x":8.2,"y":0.015091},{"p":"M11","s":"May2017","c":"May","x":8.5,"y":0.025894},{"p":"M11","s":"May2017","c":"May","x":8.8,"y":0.031},{"p":"M11","s":"May2017","c":"May","x":9.1,"y":0.028272},{"p":"M11","s":"May2017","c":"May","x":9.4,"y":0.021483},{"p":"M11","s":"May2017","c":"May","x":9.8,"y":0.011172},{"p":"M11","s":"May2017","c":"May","x":10.3,"y":0.003122},{"p":"M11","s":"May2017","c":"May","x":10.8,"y":0.000523},{"p":"M11","s":"May2017","c":"May","x":11.3,"y":0.000053},{"p":"M11","s":"May2017","c":"May","x":12,"y":0}
]
},
"hconcat":[
{
"width":546,"height":544,
"layer":[
{"data":{"name":"curves"},"transform":[{"filter":"datum.p == 'M10'"}],
 "mark":{"type":"line","strokeWidth":1.2,"interpolate":"monotone","clip":true},
 "encoding":{
  "x":{"field":"x","type":"quantitative","scale":{"domain":[1,26],"nice":false,"zero":false},
   "axis":{"title":null,"values":[1,3.5,6,8.5,11,13.5,16,18.5,21,23.5,26],"format":"d","labelExpr":"datum.value % 5 == 1 ? datum.label : ''","labelPadding":20}},
  "y":{"field":"y","type":"quantitative","scale":{"domain":[0,0.05],"nice":false},
   "axis":{"title":"Frequency","values":[0,0.005,0.01,0.015,0.02,0.025,0.03,0.035,0.04,0.045,0.05],"labelExpr":"round(datum.value*1000) % 10 == 0 ? format(datum.value,'.2f') : ''","labelPadding":15,"titlePadding":25}},
  "color":{"field":"c","type":"nominal","scale":{"domain":["Feb","May","Aug","Nov"],"range":["#ff2a1f","#1c8c1c","#1a1aff","#000000"]},"legend":null},
  "detail":{"field":"s"}
 }},
{"data":{"name":"table"},"transform":[{"filter":"datum.p == 'M10'"}],
 "mark":{"type":"text","align":"left","baseline":"middle","font":"DejaVu Sans","fontSize":15.6},
 "encoding":{
  "x":{"datum":2.035,"type":"quantitative","scale":{"domain":[1,26],"nice":false,"zero":false},"axis":null},
  "y":{"field":"r","type":"quantitative","scale":{"domain":[-1.69,24.81],"reverse":true,"nice":false,"zero":false},"axis":null},
  "text":{"field":"m"},
  "color":{"field":"c","type":"nominal","scale":{"domain":["Feb","May","Aug","Nov"],"range":["#ff2a1f","#1c8c1c","#1a1aff","#000000"]},"legend":null}
 }},
{"data":{"name":"table"},"transform":[{"filter":"datum.p == 'M10'"}],
 "mark":{"type":"text","align":"right","baseline":"middle","font":"DejaVu Sans","color":"#111"},
 "encoding":{
  "x":{"datum":8.08,"type":"quantitative","scale":{"domain":[1,26],"nice":false,"zero":false},"axis":null},
  "y":{"field":"r","type":"quantitative","scale":{"domain":[-1.69,24.81],"reverse":true,"nice":false,"zero":false},"axis":null},
  "text":{"field":"n"},
  "size":{"condition":{"test":"datum.r < 0","value":14},"value":13.3}
 }},
{"data":{"name":"table"},"transform":[{"filter":"datum.p == 'M10'"}],
 "mark":{"type":"text","align":"right","baseline":"middle","font":"DejaVu Sans","color":"#111"},
 "encoding":{
  "x":{"datum":10.92,"type":"quantitative","scale":{"domain":[1,26],"nice":false,"zero":false},"axis":null},
  "y":{"field":"r","type":"quantitative","scale":{"domain":[-1.69,24.81],"reverse":true,"nice":false,"zero":false},"axis":null},
  "text":{"field":"a"},
  "size":{"condition":{"test":"datum.r < 0","value":14},"value":13.3}
 }},
{"data":{"name":"table"},"transform":[{"filter":"datum.p == 'M10'"}],
 "mark":{"type":"text","align":"right","baseline":"middle","font":"DejaVu Sans","color":"#111"},
 "encoding":{
  "x":{"datum":13.79,"type":"quantitative","scale":{"domain":[1,26],"nice":false,"zero":false},"axis":null},
  "y":{"field":"r","type":"quantitative","scale":{"domain":[-1.69,24.81],"reverse":true,"nice":false,"zero":false},"axis":null},
  "text":{"field":"o"},
  "size":{"condition":{"test":"datum.r < 0","value":14},"value":13.3}
 }},
{"data":{"name":"titles"},"transform":[{"filter":"datum.p == 'M10'"}],
 "mark":{"type":"text","align":"left","baseline":"alphabetic","font":"DejaVu Sans","fontWeight":"bold","fontSize":30,"color":"#f03c14"},
 "encoding":{
  "x":{"datum":14.08,"type":"quantitative","scale":{"domain":[1,26],"nice":false,"zero":false},"axis":{"orient":"top","title":null,"values":[1,3.5,6,8.5,11,13.5,16,18.5,21,23.5,26],"labels":false}},
  "y":{"datum":0.04635,"type":"quantitative","scale":{"domain":[0,0.05],"nice":false},"axis":{"orient":"right","title":null,"values":[0,0.005,0.01,0.015,0.02,0.025,0.03,0.035,0.04,0.045,0.05],"labels":false}},
  "text":{"field":"t"}
 }}
],
"resolve":{"scale":{"x":"independent","y":"independent"},"axis":{"x":"independent","y":"independent"}}
},
{
"width":555,"height":544,
"layer":[
{"data":{"name":"curves"},"transform":[{"filter":"datum.p == 'M11'"}],
 "mark":{"type":"line","strokeWidth":1.2,"interpolate":"monotone","clip":true},
 "encoding":{
  "x":{"field":"x","type":"quantitative","scale":{"domain":[2,12],"nice":false,"zero":false},
   "axis":{"title":null,"values":[2,3,4,5,6,7,8,9,10,11,12],"format":"d","labelExpr":"datum.value % 2 == 0 ? datum.label : ''","labelPadding":20}},
  "y":{"field":"y","type":"quantitative","scale":{"domain":[0,0.05],"nice":false},
   "axis":{"title":null,"values":[0,0.005,0.01,0.015,0.02,0.025,0.03,0.035,0.04,0.045,0.05],"labelExpr":"round(datum.value*1000) % 10 == 0 ? format(datum.value,'.2f') : ''","labelPadding":17}},
  "color":{"field":"c","type":"nominal","scale":{"domain":["Feb","May","Aug","Nov"],"range":["#ff2a1f","#1c8c1c","#1a1aff","#000000"]},"legend":null},
  "detail":{"field":"s"}
 }},
{"data":{"name":"table"},"transform":[{"filter":"datum.p == 'M11'"}],
 "mark":{"type":"text","align":"left","baseline":"middle","font":"DejaVu Sans","fontSize":15.6},
 "encoding":{
  "x":{"datum":2.432,"type":"quantitative","scale":{"domain":[2,12],"nice":false,"zero":false},"axis":null},
  "y":{"field":"r","type":"quantitative","scale":{"domain":[-1.45,24.58],"reverse":true,"nice":false,"zero":false},"axis":null},
  "text":{"field":"m"},
  "color":{"field":"c","type":"nominal","scale":{"domain":["Feb","May","Aug","Nov"],"range":["#ff2a1f","#1c8c1c","#1a1aff","#000000"]},"legend":null}
 }},
{"data":{"name":"table"},"transform":[{"filter":"datum.p == 'M11'"}],
 "mark":{"type":"text","align":"right","baseline":"middle","font":"DejaVu Sans","color":"#111"},
 "encoding":{
  "x":{"datum":4.847,"type":"quantitative","scale":{"domain":[2,12],"nice":false,"zero":false},"axis":null},
  "y":{"field":"r","type":"quantitative","scale":{"domain":[-1.45,24.58],"reverse":true,"nice":false,"zero":false},"axis":null},
  "text":{"field":"n"},
  "size":{"condition":{"test":"datum.r < 0","value":14},"value":13.3}
 }},
{"data":{"name":"table"},"transform":[{"filter":"datum.p == 'M11'"}],
 "mark":{"type":"text","align":"right","baseline":"middle","font":"DejaVu Sans","color":"#111"},
 "encoding":{
  "x":{"datum":5.995,"type":"quantitative","scale":{"domain":[2,12],"nice":false,"zero":false},"axis":null},
  "y":{"field":"r","type":"quantitative","scale":{"domain":[-1.45,24.58],"reverse":true,"nice":false,"zero":false},"axis":null},
  "text":{"field":"a"},
  "size":{"condition":{"test":"datum.r < 0","value":14},"value":13.3}
 }},
{"data":{"name":"table"},"transform":[{"filter":"datum.p == 'M11'"}],
 "mark":{"type":"text","align":"right","baseline":"middle","font":"DejaVu Sans","color":"#111"},
 "encoding":{
  "x":{"datum":7.13,"type":"quantitative","scale":{"domain":[2,12],"nice":false,"zero":false},"axis":null},
  "y":{"field":"r","type":"quantitative","scale":{"domain":[-1.45,24.58],"reverse":true,"nice":false,"zero":false},"axis":null},
  "text":{"field":"o"},
  "size":{"condition":{"test":"datum.r < 0","value":14},"value":13.3}
 }},
{"data":{"name":"titles"},"transform":[{"filter":"datum.p == 'M11'"}],
 "mark":{"type":"text","align":"left","baseline":"alphabetic","font":"DejaVu Sans","fontWeight":"bold","fontSize":30,"color":"#f03c14"},
 "encoding":{
  "x":{"datum":7.31,"type":"quantitative","scale":{"domain":[2,12],"nice":false,"zero":false},"axis":{"orient":"top","title":null,"values":[2,3,4,5,6,7,8,9,10,11,12],"labels":false}},
  "y":{"datum":0.0464,"type":"quantitative","scale":{"domain":[0,0.05],"nice":false},"axis":{"orient":"right","title":null,"values":[0,0.005,0.01,0.015,0.02,0.025,0.03,0.035,0.04,0.045,0.05],"labels":false}},
  "text":{"field":"t"}
 }}
],
"resolve":{"scale":{"x":"independent","y":"independent"},"axis":{"x":"independent","y":"independent"}}
}
]
}
